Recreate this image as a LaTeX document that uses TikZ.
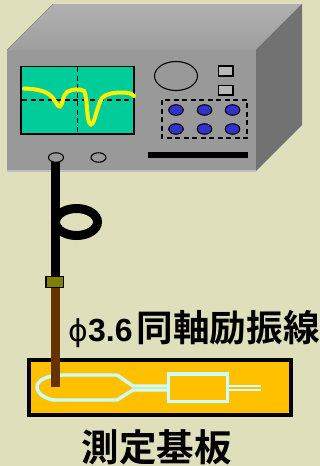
\documentclass[tikz,border=0pt]{standalone}
\usepackage{fontspec}
\setmainfont{Noto Sans CJK JP}[BoldFont={Noto Sans CJK JP Bold}]
\newfontfamily\latinbold{Liberation Sans}[BoldFont={Liberation Sans Bold}]
\newfontfamily\phifont{DejaVu Sans}
\definecolor{bgc}{HTML}{E0DFBC}
\definecolor{frontc}{HTML}{999999}
\definecolor{topc}{HTML}{A8A8A8}
\definecolor{sidec}{HTML}{727272}
\definecolor{scr}{HTML}{00CC99}
\definecolor{blu}{HTML}{3333CC}
\definecolor{oli}{HTML}{808000}
\definecolor{brn}{HTML}{663300}
\definecolor{brd}{HTML}{FFC000}
\definecolor{trace}{HTML}{CCFFFF}
\definecolor{btn}{HTML}{B8B8B8}
\tikzset{
  panel/.style={draw=black,line width=1.1pt},
  knobsmall/.style={ellipse,draw=black,line width=1.1pt,inner sep=0pt,minimum width=14.5pt,minimum height=10.5pt,fill=blu},
  jack/.style={ellipse,draw=black,line width=1.1pt,inner sep=0pt,minimum width=15pt,minimum height=9.5pt,fill=frontc},
  grid/.style={black,line width=1.1pt,dash pattern=on 5pt off 3.5pt},
  pcb/.style={trace,line width=3.4pt,line join=miter},
  label/.style={inner sep=0pt,font=\bfseries\fontsize{36.6}{36.6}\selectfont,black}
}
\usetikzlibrary{shapes.geometric}
\begin{document}
\begin{tikzpicture}[x=1pt,y=-1pt]
\useasboundingbox (0,0) rectangle (320,466);
\fill[bgc] (0,0) rectangle (320,466);
% case
\fill[top color=topc!90!white,bottom color=frontc!95!white] (7,50) -- (53,4) -- (302,4) -- (256,50) -- cycle;
\fill[sidec] (256,50) -- (302,4) -- (302,125) -- (256,171) -- cycle;
\fill[frontc] (7,50) rectangle (256,171);
\fill[btn!90!white] (7,170) rectangle (256,172);
% screen
\draw[panel,fill=scr] (21,66.5) rectangle (134,134);
\draw[grid] (77.5,67) -- (77.5,134);
\draw[grid] (22,100) -- (134,100);
\draw[yellow,line width=4pt,line cap=round] (24,88.5) .. controls (40,89) and (48,92) .. (53,98)
  .. controls (57,104) and (58,107) .. (60,106.5)
  .. controls (63,105) and (62,96) .. (67,92)
  .. controls (72,89) and (80,88.5) .. (84,91)
  .. controls (88,97) and (86,124) .. (91,124.5)
  .. controls (95,124) and (97,105) .. (102,98)
  .. controls (107,92) and (122,92) .. (129,93)
  .. controls (132,94) and (133,95) .. (134,96);
% controls
\draw[panel,fill=frontc] (176,76) ellipse (21.5 and 14.5);
\draw[panel,fill=btn] (218.5,66) rectangle (233,76);
\draw[panel,fill=btn] (218.5,85.5) rectangle (233,95);
\draw[grid] (162,100) rectangle (247,138);
\node[knobsmall] (k1) at (176,110) {};
\node[knobsmall] (k2) at (204.5,110) {};
\node[knobsmall] (k3) at (232.5,110) {};
\node[knobsmall] (k4) at (176,129) {};
\node[knobsmall] (k5) at (204.5,129) {};
\node[knobsmall] (k6) at (232.5,129) {};
\fill[black] (147.5,152) rectangle (247.5,158);
\node[jack] (j1) at (56,157.5) {};
\node[jack] (j2) at (98.5,157.5) {};
% board
\draw[black,line width=4pt,fill=brd] (29,360) rectangle (291,415);
\draw[pcb] (117,375) -- (65,375) .. controls (45,375) and (37,381) .. (37,387)
  .. controls (37,394) and (46,399) .. (54,400) -- (117,400) -- (133,390) -- (167,390);
\draw[pcb] (117,375) -- (133,386) -- (167,386);
\draw[pcb] (168.4,374) rectangle (227.6,401.6);
\draw[pcb,line width=2.8pt] (229,386) -- (261,386);
\draw[pcb,line width=2.4pt] (229,390) -- (261,390);
% cable
\coordinate (top) at (55.5,162);
\coordinate (conn) at (55.5,276);
\coordinate (tip) at (55.5,387);
\draw[black,line width=9pt] (top) -- (conn);
\draw[black,line width=9pt] (76.5,222) ellipse (21 and 13.5);
\draw[brn,line width=9pt] (55.5,285) -- (tip);
\draw[black,line width=1.1pt,fill=oli] (46,276.5) rectangle (63.5,287.5);
% labels
\node[label,anchor=west] (cap) at (68,329) {\makebox[20pt][c]{\phifont\mdseries\fontsize{30}{30}\selectfont ϕ}\makebox[48.5pt][l]{\latinbold\fontsize{32}{32}\selectfont 3.6}同軸励振線};
\node[label,anchor=center,font=\bfseries\fontsize{37.5}{37.5}\selectfont] (brdname) at (156.5,447) {測定基板};
\end{tikzpicture}
\end{document}
